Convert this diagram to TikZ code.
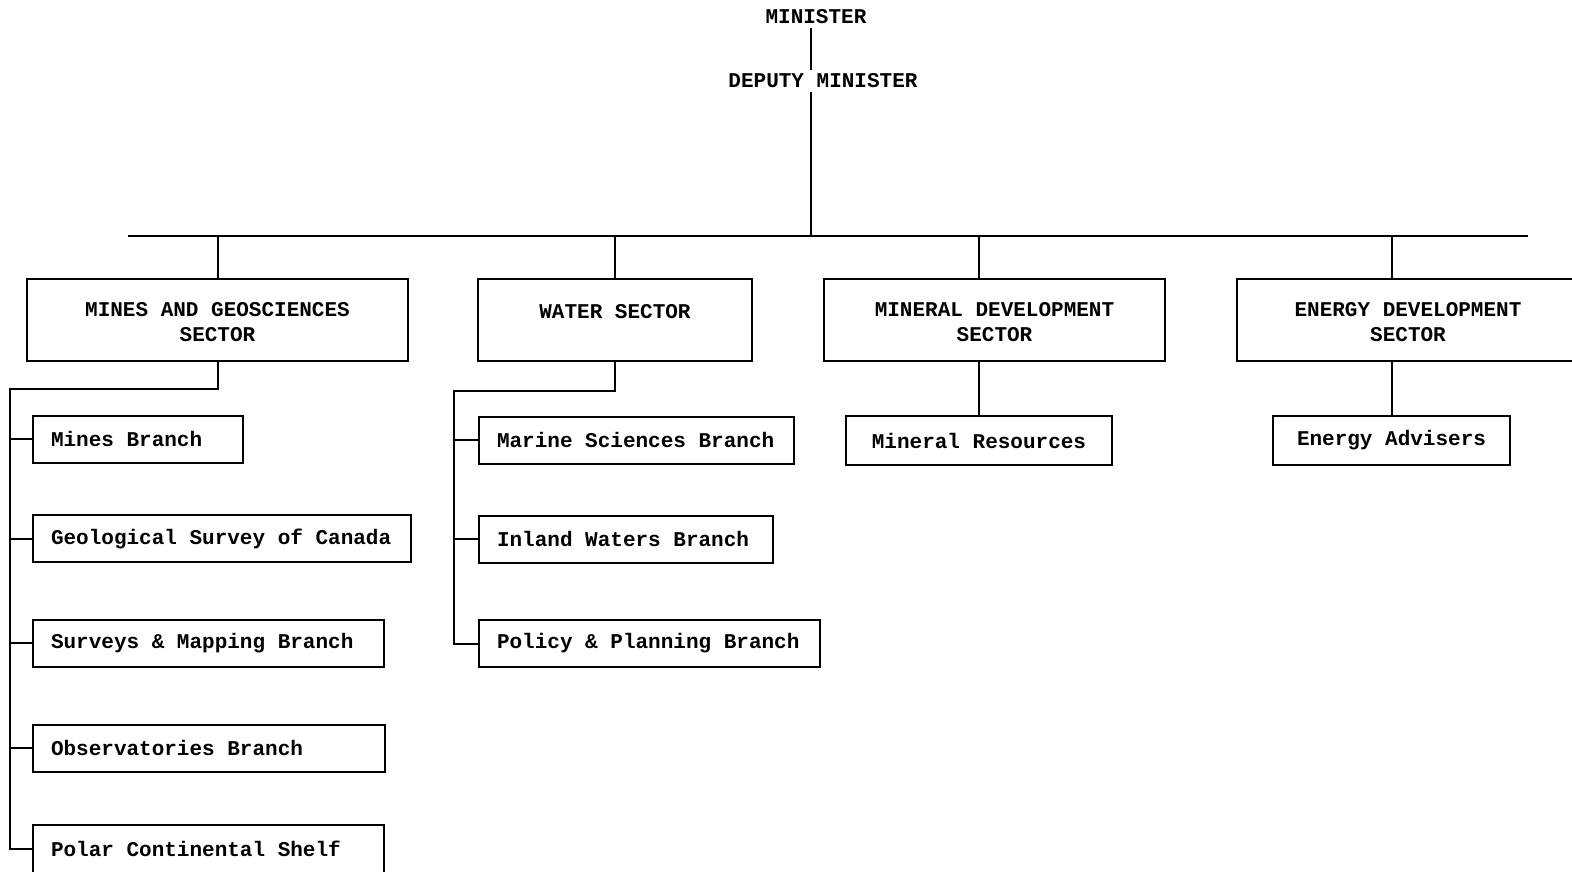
\documentclass[tikz,border=0pt]{standalone}
\usepackage{fontspec}
\setmonofont{Liberation Mono}
\begin{document}
\begin{tikzpicture}[x=1pt,y=-1pt,line width=2pt,
  every node/.style={font=\fontsize{21}{25}\selectfont\ttfamily\bfseries,
    execute at begin node={\spaceskip=12.6pt\relax}},
  sector/.style={draw,line width=2pt,anchor=north,minimum height=82pt,align=center},
  branch/.style={draw,line width=2pt,anchor=west,minimum height=47pt,inner xsep=18pt,align=left},
  unit/.style={draw,line width=2pt,minimum height=49pt}]
\useasboundingbox (0,0) rectangle (1572,871);
\node[inner sep=3pt] (min) at (816,17) {MINISTER};
\node[inner sep=3pt] (dep) at (823,81) {DEPUTY MINISTER};
\coordinate (spine) at (811,236);
\coordinate (barL) at (128,236);
\coordinate (barR) at (1528,236);
\node[sector,minimum width=381pt] (mines) at (217.5,278) {\\[-7pt]MINES AND GEOSCIENCES\\SECTOR};
\node[sector,minimum width=274pt] (water) at (615,278) {WATER SECTOR\\[-8pt]\mbox{}};
\node[sector,minimum width=341pt] (mineral) at (994.5,278) {\\[-7pt]MINERAL DEVELOPMENT\\SECTOR};
\node[sector,minimum width=342pt] (energy) at (1408,278) {\\[-7pt]ENERGY DEVELOPMENT\\SECTOR};
\node[branch,text width=174pt] (mb) at (32,439) {Mines Branch};
\node[branch,text width=342pt] (gsc) at (32,538.5) {Geological Survey of Canada};
\node[branch,text width=315pt] (smb) at (32,643) {Surveys \& Mapping Branch};
\node[branch,text width=316pt] (obs) at (32,748) {Observatories Branch};
\node[branch,text width=315pt,minimum height=48pt] (polar) at (32,849) {Polar Continental Shelf};
\node[branch,text width=279pt] (msb) at (478,440) {Marine Sciences Branch};
\node[branch,text width=258pt] (iwb) at (478,539) {Inland Waters Branch};
\node[branch,text width=305pt] (ppb) at (478,643.5) {Policy \& Planning Branch};
\node[unit,minimum width=266pt] (mres) at (979,440.5) {Mineral Resources};
\node[unit,minimum width=237pt] (eadv) at (1391.5,440.5) {Energy Advisers};
\draw (min.south -| spine) -- (dep.north -| spine);
\draw (dep.south -| spine) -- (spine);
\draw (barL) -- (barR);
\draw (mines.north) -- (mines.north |- barL);
\draw (water.north) -- (water.north |- barL);
\draw (mineral.north -| mres.north) -- (barL -| mres.north);
\draw (mres.north) -- (mineral.south -| mres.north);
\draw (energy.north -| eadv.north) -- (barL -| eadv.north);
\draw (eadv.north) -- (energy.south -| eadv.north);
\coordinate (mrail) at (10,389);
\draw (mines.south) |- (mrail) |- (polar.west);
\foreach \b in {mb,gsc,smb,obs}
  \draw (\b.west) -- (\b.west -| mrail);
\coordinate (wrail) at (454,391);
\draw (water.south) |- (wrail) |- (ppb.west);
\foreach \b in {msb,iwb}
  \draw (\b.west) -- (\b.west -| wrail);
\end{tikzpicture}
\end{document}
